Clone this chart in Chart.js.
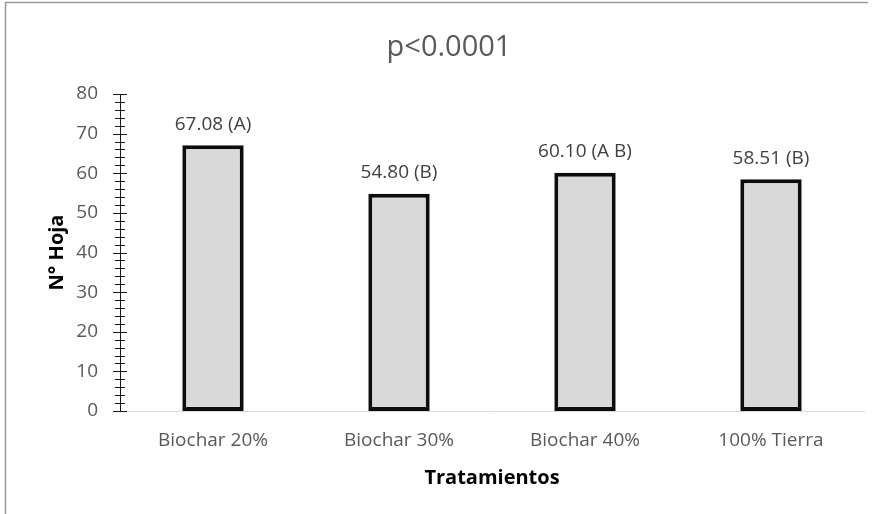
<!DOCTYPE html>
<html>
<head>
<meta charset="utf-8">
<script src="https://cdn.jsdelivr.net/npm/chart.js@4.4.1/dist/chart.umd.min.js"></script>
<style>
  html, body { margin: 0; padding: 0; background: #fff; }
  #wrap { width: 878px; height: 514px; position: relative; }
</style>
</head>
<body>
<div id="wrap"><canvas id="chart" width="878" height="514"></canvas></div>
<script>
// data
const tratamientos = ["Biochar 20%", "Biochar 30%", "Biochar 40%", "100% Tierra"];
const nHoja = [67.08, 54.80, 60.10, 58.51];
const grupos = ["A", "B", "A B", "B"];
const titulo = "p<0.0001";
const yMax = 80;
const yStep = 10;
const yMinorStep = 2;

const FONT = "'Open Sans', sans-serif";

// white page with the frame lines on the top and left edge, plus the title
const framePlugin = {
  id: "frame",
  beforeDraw(chart) {
    const ctx = chart.ctx;
    ctx.save();
    ctx.fillStyle = "#fff";
    ctx.fillRect(0, 0, chart.width, chart.height);
    ctx.strokeStyle = "#9a9a9a";
    ctx.lineWidth = 1.5;
    ctx.beginPath();
    ctx.moveTo(5.5, chart.height);
    ctx.lineTo(5.5, 2.5);
    ctx.lineTo(868, 2.5);
    ctx.stroke();
    // title (Excel centres it a bit right of the canvas middle)
    ctx.font = "29px " + FONT;
    ctx.fillStyle = "#595959";
    ctx.textAlign = "center";
    ctx.textBaseline = "middle";
    ctx.fillText(titulo, 449, 48);
    ctx.restore();
  }
};

// Excel-like cross tick marks (major + minor) on the y axis
const crossTicks = {
  id: "crossTicks",
  afterDatasetsDraw(chart) {
    const y = chart.scales.y;
    const x0 = chart.chartArea.left;
    const ctx = chart.ctx;
    ctx.save();
    ctx.strokeStyle = "#1a1a1a";
    ctx.lineWidth = 1;
    ctx.beginPath();
    for (let v = 0; v <= yMax; v += yMinorStep) {
      const py = Math.round(y.getPixelForValue(v)) + 0.5;
      const half = v % yStep === 0 ? 7 : 5;
      ctx.moveTo(x0 - half, py);
      ctx.lineTo(x0 + half, py);
    }
    ctx.stroke();
    ctx.restore();
  }
};

// value labels above the bars
const barLabels = {
  id: "barLabels",
  afterDatasetsDraw(chart) {
    const ctx = chart.ctx;
    const meta = chart.getDatasetMeta(0);
    ctx.save();
    ctx.font = "19px " + FONT;
    ctx.fillStyle = "#404040";
    ctx.textAlign = "center";
    ctx.textBaseline = "middle";
    meta.data.forEach((bar, i) => {
      const txt = nHoja[i].toFixed(2) + " (" + grupos[i] + ")";
      ctx.fillText(txt, bar.x, bar.y - 21);
    });
    ctx.restore();
  }
};

new Chart(document.getElementById("chart").getContext("2d"), {
  type: "bar",
  data: {
    labels: tratamientos,
    datasets: [{
      label: "N° Hoja",
      data: nHoja,
      backgroundColor: "#d9d9d9",
      borderColor: "#0d0d0d",
      borderWidth: 4,
      borderSkipped: false,
      categoryPercentage: 1,
      barPercentage: 0.33
    }]
  },
  options: {
    responsive: false,
    animation: false,
    layout: { padding: { left: 0, right: 14, top: 94, bottom: 0 } },
    plugins: {
      legend: { display: false },
      tooltip: { enabled: false },
      title: { display: false }
    },
    scales: {
      x: {
        grid: { display: false, drawTicks: false },
        border: { display: true, color: "#d9d9d9", width: 1 },
        ticks: {
          color: "#595959",
          font: { family: FONT, size: 19 },
          padding: 18,
          maxRotation: 0
        },
        title: {
          display: true,
          text: "Tratamientos",
          color: "#000",
          font: { family: FONT, size: 20, weight: "bold" },
          padding: { top: 0, bottom: 24 }
        },
        afterFit(scale) { scale.height = 103; }
      },
      y: {
        min: 0,
        max: yMax,
        grid: { display: false, drawTicks: false },
        border: { display: true, color: "#1a1a1a", width: 1 },
        ticks: {
          stepSize: yStep,
          color: "#595959",
          font: { family: FONT, size: 19 },
          padding: 22
        },
        title: {
          display: true,
          text: "N° Hoja",
          color: "#000",
          font: { family: FONT, size: 20, weight: "bold" },
          padding: { top: 45, bottom: 0 }
        },
        afterFit(scale) { scale.width = 120; }
      }
    }
  },
  plugins: [framePlugin, crossTicks, barLabels]
});
</script>
</body>
</html>
